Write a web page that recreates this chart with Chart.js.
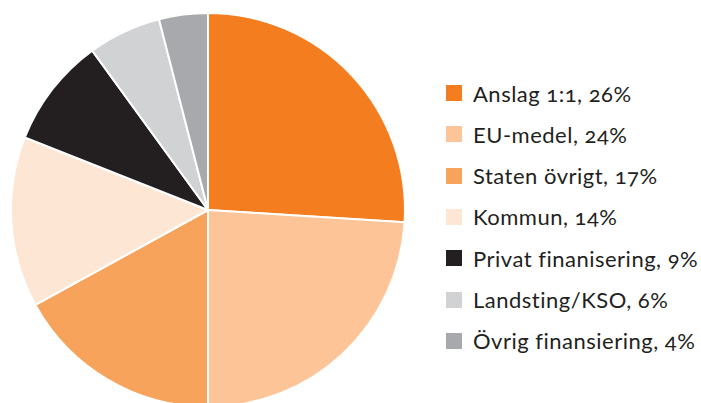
<!DOCTYPE html>
<html>
<head>
<meta charset="utf-8">
<script src="https://cdn.jsdelivr.net/npm/chart.js@4/dist/chart.umd.min.js"></script>
<style>
  html, body { margin: 0; padding: 0; width: 701px; height: 403px; overflow: hidden; background: #fff; }
  #wrap { position: absolute; left: 0; top: 0; width: 420px; height: 420px; }
  #legend { position: absolute; left: 446px; top: 0; margin: 0; padding: 0; list-style: none;
    font-family: Lato, "Open Sans", sans-serif; font-size: 22px; letter-spacing: 0.5px; color: #231F20;
    font-feature-settings: "onum" 1; font-variant-numeric: oldstyle-nums; }
  #legend li { position: absolute; left: 0; height: 20px; white-space: nowrap; display: flex; align-items: center; }
  #legend .box { width: 16px; height: 16px; flex: none; margin-right: 11px; }
</style>
</head>
<body>
<div id="wrap"><canvas id="c"></canvas></div>
<ul id="legend"></ul>
<script>
const categories = ["Anslag 1:1", "EU-medel", "Staten övrigt", "Kommun", "Privat finanisering", "Landsting/KSO", "Övrig finansiering"];
const shares = [26, 24, 17, 14, 9, 6, 4];
const colors = ["#F47D20", "#FDC597", "#F7A35C", "#FDE6D4", "#231F20", "#D1D2D4", "#A7A9AC"];

const chart = new Chart(document.getElementById('c'), {
  type: 'pie',
  data: {
    labels: categories,
    datasets: [{
      data: shares,
      backgroundColor: colors,
      borderColor: '#ffffff',
      borderWidth: 2,
      hoverOffset: 0
    }]
  },
  options: {
    responsive: true,
    maintainAspectRatio: false,
    animation: false,
    layout: { padding: { left: 0, right: 4, top: 12, bottom: 12 } },
    plugins: { legend: { display: false }, tooltip: { enabled: false } }
  }
});

const ul = document.getElementById('legend');
categories.forEach((name, i) => {
  const li = document.createElement('li');
  li.style.top = (93 + i * 41.3 - 10) + 'px';
  const box = document.createElement('span');
  box.className = 'box';
  box.style.background = colors[i];
  const txt = document.createElement('span');
  txt.textContent = name + ', ' + shares[i] + '%';
  li.appendChild(box);
  li.appendChild(txt);
  ul.appendChild(li);
});
</script>
</body>
</html>
